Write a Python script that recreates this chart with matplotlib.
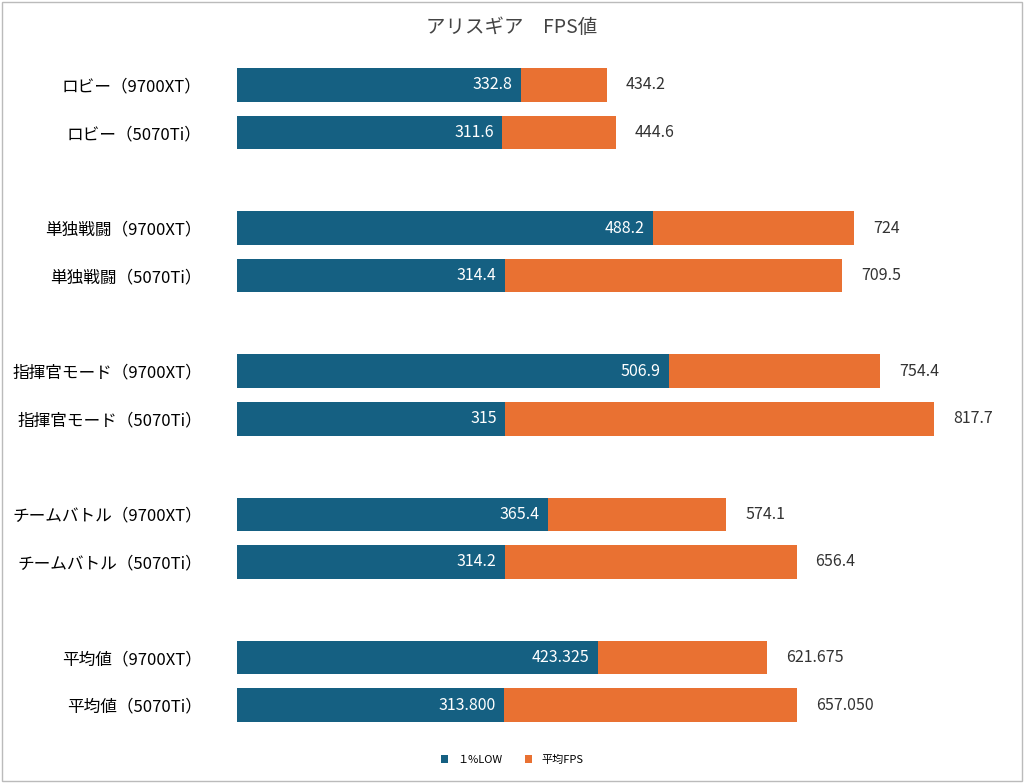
import matplotlib.pyplot as plt
import numpy as np


def getData():
    labels = ["ロビー（9700XT）", "ロビー（5070Ti）",
              "単独戦闘（9700XT）", "単独戦闘（5070Ti）",
              "指揮官モード（9700XT）", "指揮官モード（5070Ti）",
              "チームバトル（9700XT）", "チームバトル（5070Ti）",
              "平均値（9700XT）", "平均値（5070Ti）"]
    low = [332.8, 311.6, 488.2, 314.4, 506.9, 315, 365.4, 314.2, 423.325, 313.800]
    avg = [434.2, 444.6, 724, 709.5, 754.4, 817.7, 574.1, 656.4, 621.675, 657.050]
    lowTxt = ["332.8", "311.6", "488.2", "314.4", "506.9", "315", "365.4", "314.2", "423.325", "313.800"]
    avgTxt = ["434.2", "444.6", "724", "709.5", "754.4", "817.7", "574.1", "656.4", "621.675", "657.050"]
    return labels, low, avg, lowTxt, avgTxt

def plotBars(labels, low, avg, lowTxt, avgTxt):
    pos = np.array([0, 1, 3, 4, 6, 7, 9, 10, 12, 13])
    fig = plt.figure(figsize=[10.24, 7.83], dpi=100)
    ax = fig.add_axes([0.231, 0.069, 0.75, 0.853])
    ax.barh(pos, avg, height=0.7, color="#e97132", label="平均FPS", zorder=1)
    ax.barh(pos, low, height=0.7, color="#156082", label="１%LOW", zorder=2)
    for p, l, a, lt, at in zip(pos, low, avg, lowTxt, avgTxt):
        ax.text(l - 10, p, lt, color="white", ha="right", va="center", fontsize=11.5)
        ax.text(a + 22, p, at, color="#333333", ha="left", va="center", fontsize=11.5)
    ax.set_xlim(0, 900)
    ax.set_ylim(13.5, -0.5)
    ax.set_yticks(pos)
    ax.set_yticklabels(labels, fontsize=12)
    ax.set_xticks([])
    ax.tick_params(axis="y", length=0, pad=25)
    for s in ax.spines.values():
        s.set_visible(False)
    fig.text(0.5, 0.965, "アリスギア　FPS値", ha="center", va="center", fontsize=14, color="#444444")
    h, lab = ax.get_legend_handles_labels()
    fig.legend(h[::-1], lab[::-1], loc="center", bbox_to_anchor=(0.5, 0.03), ncol=2,
               frameon=False, fontsize=8, handlelength=0.7, handleheight=0.7)
    fig.patches.append(plt.Rectangle((0.002, 0.002), 0.996, 0.996, transform=fig.transFigure,
                                     fill=False, edgecolor="#bbbbbb", linewidth=1))
    fig.savefig("out.png")


def main():
    plt.rcParams["font.family"] = ["Noto Sans CJK JP", "DejaVu Sans"]
    labels, low, avg, lowTxt, avgTxt = getData()
    plotBars(labels, low, avg, lowTxt, avgTxt)


main()
